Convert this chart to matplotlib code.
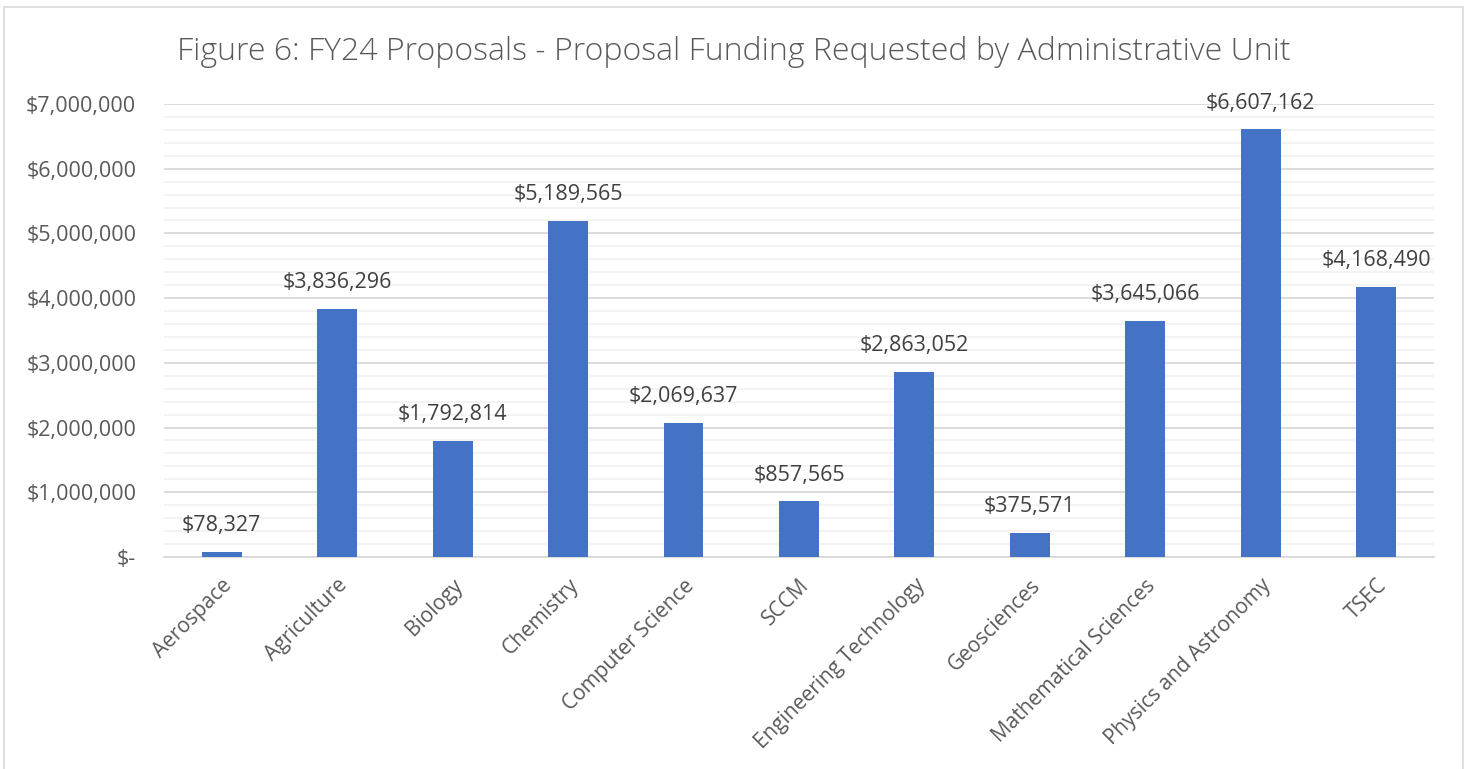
import matplotlib.pyplot as plt
from matplotlib.patches import Rectangle
from matplotlib.ticker import FuncFormatter, MultipleLocator

units = ["Aerospace", "Agriculture", "Biology", "Chemistry", "Computer Science",
         "SCCM", "Engineering Technology", "Geosciences", "Mathematical Sciences",
         "Physics and Astronomy", "TSEC"]
funding = [78327, 3836296, 1792814, 5189565, 2069637, 857565, 2863052,
           375571, 3645066, 6607162, 4168490]

plt.rcParams["font.family"] = ["Open Sans", "DejaVu Sans"]

fig = plt.figure(figsize=(14.68, 7.69), dpi=100)
ax = fig.add_axes([0.1117, 0.2757, 0.8651, 0.5891])

# chart border
fig.patches.append(Rectangle((4 / 1468, -0.01), 1459 / 1468, 1 - 7 / 769 + 0.01,
                             transform=fig.transFigure, fill=False,
                             edgecolor="#D9D9D9", linewidth=1.2))

x = range(len(units))
ax.bar(x, funding, width=0.345, color="#4472C4", zorder=3)

for i, v in zip(x, funding):
    ax.annotate(f"${v:,.0f}", (i, v), xytext=(0, 19), textcoords="offset points",
                ha="center", va="center", fontsize=15.5, color="#404040")

ax.set_xlim(-0.5, len(units) - 0.5)
ax.set_ylim(0, 7000000)
ax.yaxis.set_major_locator(MultipleLocator(1000000))
ax.yaxis.set_minor_locator(MultipleLocator(200000))
ax.yaxis.set_major_formatter(FuncFormatter(lambda v, p: "$-" if v == 0 else f"${v:,.0f}"))
ax.grid(axis="y", which="major", color="#D9D9D9", linewidth=1.3, zorder=0)
ax.grid(axis="y", which="minor", color="#F2F2F2", linewidth=1.3, zorder=0)

for s in ["top", "right", "left"]:
    ax.spines[s].set_visible(False)
ax.spines["bottom"].set_color("#D9D9D9")
ax.spines["bottom"].set_linewidth(1.3)

ax.set_xticks(list(x))
ax.set_xticklabels(units, rotation=45, ha="right", rotation_mode="anchor",
                   fontsize=15, color="#595959")
ax.tick_params(axis="x", length=0, pad=13)
ax.tick_params(axis="y", which="both", length=0, labelsize=15.5,
               labelcolor="#595959", pad=20)

fig.text(0.5, 0.933, "Figure 6: FY24 Proposals - Proposal Funding Requested by Administrative Unit",
         ha="center", va="center", fontsize=23, color="#595959", fontweight="light")

fig.savefig("out.png", dpi=100)
